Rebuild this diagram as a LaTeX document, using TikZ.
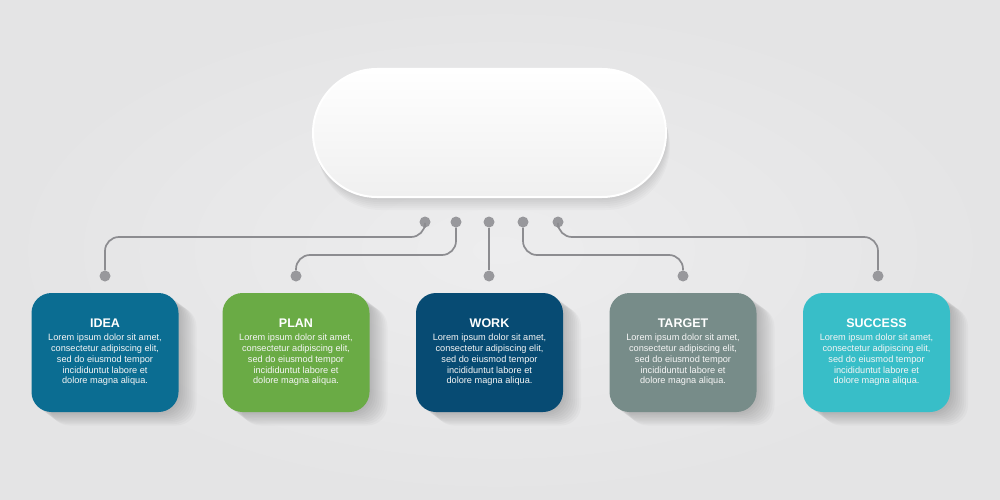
\documentclass[tikz,border=0pt]{standalone}
\usepackage{fontspec}
\setmainfont{Liberation Sans}
\definecolor{bgc}{HTML}{E4E4E5}
\definecolor{bgl}{HTML}{EDEDEE}
\definecolor{linec}{HTML}{8C8C90}
\definecolor{dotc}{HTML}{98989C}
\definecolor{cidea}{HTML}{0B6D92}
\definecolor{cplan}{HTML}{6AAB45}
\definecolor{cwork}{HTML}{074B73}
\definecolor{ctarget}{HTML}{778C89}
\definecolor{csuccess}{HTML}{38BEC8}
\tikzset{
  conn/.style={draw=linec, line width=1.7pt, rounded corners=14pt},
  dotn/.style={circle, fill=dotc, inner sep=0pt, minimum size=11pt},
  cardbox/.style={rounded corners=20pt, minimum width=147pt, minimum height=119pt, inner sep=0pt},
  cardshade/.style={fill=black, rounded corners=20pt, minimum width=147pt, minimum height=119pt, inner sep=0pt},
  titletext/.style={text=white, font=\fontsize{12.5}{15}\selectfont\bfseries, inner sep=0pt},
  bodytext/.style={text=white!92!gray, font=\fontsize{9.2}{10.8}\selectfont, align=center, inner sep=0pt},
}
\begin{document}
\begin{tikzpicture}[x=1pt, y=-1pt]
  \useasboundingbox (0,0) rectangle (1000,500);
  \shade[inner color=bgl, outer color=bgc] (0,0) rectangle (1000,500);

  % top capsule with shadow
  \foreach \s in {1,3,5,7,9,11,13}{
    \fill[black, opacity=0.018, rounded corners=64pt] (313+0.3*\s,69+\s) rectangle (666+0.3*\s,197+\s);
  }
  \shade[top color=white, bottom color=white!94!black, rounded corners=64pt,
    draw=white, line width=2pt] (313,69) rectangle (666,197);
  \node[minimum width=350pt, minimum height=125pt] (top) at (489.5,133) {};

  % card shadows
  \foreach \cx in {105,296,489.5,683,876.5}{
    \foreach \s in {2,4,6,8,10,12,14,16,18}{
      \node[cardshade, opacity=0.022] at (\cx+\s,352.5+0.75*\s) {};
    }
  }

  % cards
  \node[cardbox, fill=cidea] (idea) at (105,352.5) {};
  \node[cardbox, fill=cplan] (plan) at (296,352.5) {};
  \node[cardbox, fill=cwork] (work) at (489.5,352.5) {};
  \node[cardbox, fill=ctarget] (target) at (683,352.5) {};
  \node[cardbox, fill=csuccess] (success) at (876.5,352.5) {};

  \foreach \n/\t in {idea/IDEA, plan/PLAN, work/WORK, target/TARGET, success/SUCCESS}{
    \node[titletext] (\n-title) at ([yshift=-30pt]\n.north) {\t};
    \node[bodytext, anchor=north] (\n-body) at ([yshift=-41pt]\n.north)
      {Lorem ipsum dolor sit amet,\\consectetur adipiscing elit,\\sed do eiusmod tempor\\incididuntut labore et\\dolore magna aliqua.};
  }

  % dots
  \node[dotn] (t1) at (425,222) {};
  \node[dotn] (t2) at (456,222) {};
  \node[dotn] (t3) at (489,222) {};
  \node[dotn] (t4) at (523,222) {};
  \node[dotn] (t5) at (558,222) {};
  \node[dotn] (b1) at (105,276) {};
  \node[dotn] (b2) at (296,276) {};
  \node[dotn] (b3) at (489,276) {};
  \node[dotn] (b4) at (683,276) {};
  \node[dotn] (b5) at (878,276) {};
  \coordinate (h1) at (105,237);
  \coordinate (h2) at (296,255);
  \coordinate (h4) at (683,255);
  \coordinate (h5) at (878,237);

  % connectors
  \draw[conn] (t1) |- (h1) -- (b1);
  \draw[conn] (t2) |- (h2) -- (b2);
  \draw[conn] (t3) -- (b3);
  \draw[conn] (t4) |- (h4) -- (b4);
  \draw[conn] (t5) |- (h5) -- (b5);
\end{tikzpicture}
\end{document}
